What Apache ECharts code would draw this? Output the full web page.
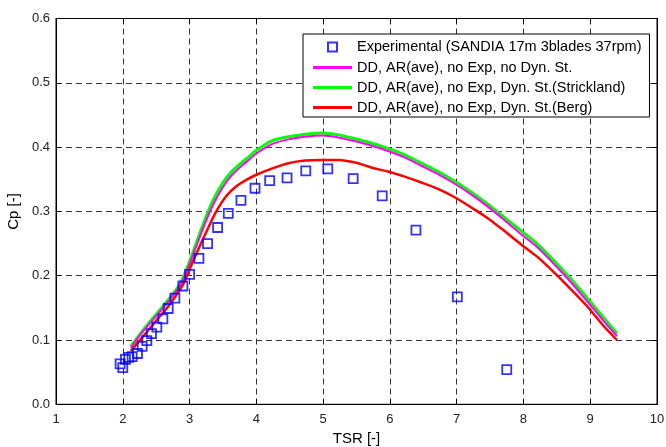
<!DOCTYPE html>
<html>
<head>
<meta charset="utf-8">
<script src="https://cdn.jsdelivr.net/npm/echarts@6/dist/echarts.min.js"></script>
<style>html,body{margin:0;padding:0;background:#fff;}#c{width:666px;height:447px;}</style>
</head>
<body>
<div id="c"></div>
<script>
const seriesNames = [
  'Experimental (SANDIA 17m 3blades 37rpm)',
  'DD, AR(ave), no Exp, no Dyn. St.',
  'DD, AR(ave), no Exp, Dyn. St.(Strickland)',
  'DD, AR(ave), no Exp, Dyn. St.(Berg)'
];
const xTicks = [1,2,3,4,5,6,7,8,9,10];
const yTicks = [0,0.1,0.2,0.3,0.4,0.5,0.6];

const experimental = [[1.96,0.063],[2.0,0.057],[2.04,0.07],[2.09,0.073],[2.14,0.074],[2.22,0.079],[2.29,0.09],[2.36,0.099],[2.43,0.11],[2.51,0.12],[2.6,0.133],[2.68,0.149],[2.78,0.165],[2.9,0.184],[3.0,0.202],[3.14,0.227],[3.27,0.25],[3.42,0.275],[3.58,0.297],[3.77,0.317],[3.98,0.336],[4.2,0.348],[4.46,0.352],[4.74,0.363],[5.07,0.366],[5.45,0.351],[5.885,0.324],[6.39,0.271],[7.01,0.167],[7.75,0.054]];

const noDynSt = [[2.12,0.088],[2.3,0.113],[2.5,0.137],[2.7,0.162],[2.86,0.185],[3.0,0.218],[3.2,0.273],[3.35,0.31],[3.5,0.338],[3.62,0.355],[3.78,0.371],[3.9,0.381],[4.0,0.39],[4.24,0.405],[4.48,0.412],[4.73,0.416],[4.98,0.418],[5.23,0.415],[5.48,0.409],[5.73,0.402],[5.97,0.394],[6.22,0.384],[6.47,0.371],[6.72,0.358],[6.97,0.343],[7.22,0.326],[7.47,0.307],[7.72,0.286],[7.96,0.265],[8.2,0.245],[8.45,0.219],[8.7,0.191],[8.94,0.162],[9.19,0.131],[9.4,0.106]];

const strickland = [[2.12,0.09],[2.3,0.115],[2.5,0.14],[2.7,0.165],[2.86,0.188],[3.0,0.222],[3.2,0.279],[3.35,0.317],[3.5,0.345],[3.62,0.361],[3.78,0.376],[3.9,0.386],[4.0,0.395],[4.24,0.41],[4.48,0.416],[4.73,0.42],[4.98,0.422],[5.23,0.419],[5.48,0.413],[5.73,0.406],[5.97,0.398],[6.22,0.388],[6.47,0.375],[6.72,0.362],[6.97,0.347],[7.22,0.33],[7.47,0.311],[7.72,0.29],[7.96,0.27],[8.2,0.25],[8.45,0.224],[8.7,0.196],[8.94,0.167],[9.19,0.136],[9.4,0.11]];

const berg = [[2.12,0.083],[2.3,0.105],[2.5,0.13],[2.7,0.155],[2.9,0.186],[3.05,0.222],[3.25,0.268],[3.4,0.3],[3.55,0.324],[3.7,0.339],[3.85,0.349],[4.0,0.357],[4.24,0.367],[4.48,0.375],[4.73,0.379],[4.98,0.38],[5.23,0.38],[5.48,0.376],[5.73,0.368],[5.97,0.362],[6.22,0.354],[6.47,0.345],[6.72,0.335],[6.97,0.322],[7.22,0.306],[7.47,0.289],[7.72,0.269],[7.96,0.249],[8.2,0.23],[8.45,0.206],[8.7,0.18],[8.94,0.154],[9.19,0.123],[9.4,0.1]];

const FONT = 'Liberation Sans, Arial, sans-serif';
const LINE_ICON = 'path://M0,0M39,14M0,5.5L39,5.5L39,8.5L0,8.5Z';
const SQUARE_ICON = 'path://M0,0M39,14M15,2.5L24,2.5L24,11.5L15,11.5Z';
const chart = echarts.init(document.getElementById('c'), null, {renderer:'canvas'});
const gridDash = {show:true, lineStyle:{color:'#333', type:[6,4], width:1}};
chart.setOption({
  animation:false,
  backgroundColor:'#fff',
  grid:{left:56, right:9, top:18.5, bottom:42.7, show:true, borderColor:'#000', borderWidth:1,
        containLabel:false, outerBoundsMode:'none'},
  xAxis:[{
    type:'value', min:xTicks[0], max:xTicks[xTicks.length-1], interval:1, position:'bottom',
    name:'TSR [-]', nameLocation:'middle', nameGap:26,
    nameTextStyle:{fontFamily:FONT, fontSize:15, color:'#000'},
    axisLine:{show:true, onZero:false, lineStyle:{color:'#000', width:1}},
    axisTick:{show:true, inside:true, length:5, lineStyle:{color:'#000'}},
    axisLabel:{fontFamily:FONT, fontSize:13, color:'#222', margin:9},
    splitLine:gridDash
  },{
    type:'value', min:xTicks[0], max:xTicks[xTicks.length-1], interval:1, position:'top',
    axisLine:{show:true, onZero:false, lineStyle:{color:'#000'}},
    axisTick:{show:true, inside:true, length:5, lineStyle:{color:'#000'}},
    axisLabel:{show:false}, splitLine:{show:false}
  }],
  yAxis:[{
    type:'value', min:yTicks[0], max:yTicks[yTicks.length-1], interval:0.1, position:'left',
    name:'Cp [-]', nameLocation:'middle', nameGap:30, nameRotate:90,
    nameTextStyle:{fontFamily:FONT, fontSize:15, color:'#000'},
    axisLine:{show:true, onZero:false, lineStyle:{color:'#000', width:1}},
    axisTick:{show:true, inside:true, length:5, lineStyle:{color:'#000'}},
    axisLabel:{fontFamily:FONT, fontSize:13, color:'#222', margin:6, formatter:v=>v.toFixed(1)},
    splitLine:gridDash
  },{
    type:'value', min:yTicks[0], max:yTicks[yTicks.length-1], interval:0.1, position:'right',
    axisLine:{show:true, onZero:false, lineStyle:{color:'#000'}},
    axisTick:{show:true, inside:true, length:5, lineStyle:{color:'#000'}},
    axisLabel:{show:false}, splitLine:{show:false}
  }],
  legend:{
    show:true, orient:'vertical', left:303, top:34,
    backgroundColor:'#fff', borderColor:'#000', borderWidth:1,
    padding:[5,8,2,9], itemGap:5, itemWidth:39, itemHeight:14,
    textStyle:{fontFamily:FONT, fontSize:14.5, lineHeight:14, color:'#000'},
    data:[
      {name:seriesNames[0], icon:SQUARE_ICON},
      {name:seriesNames[1], icon:LINE_ICON, itemStyle:{borderWidth:0}},
      {name:seriesNames[2], icon:LINE_ICON, itemStyle:{borderWidth:0}},
      {name:seriesNames[3], icon:LINE_ICON, itemStyle:{borderWidth:0}}
    ]
  },
  series:[
    {name:seriesNames[0], type:'scatter', data:experimental, z:5,
     symbol:'path://M0,0L10,0L10,10L0,10Z', symbolKeepAspect:true, symbolSize:9,
     itemStyle:{color:'rgba(0,0,0,0)', borderColor:'#0000ff', borderWidth:1.8}},
    {name:seriesNames[2], type:'line', data:strickland, showSymbol:false, symbol:'none', smooth:0.3, z:2,
     lineStyle:{color:'#00ff00', width:3}, itemStyle:{color:'#00ff00'}},
    {name:seriesNames[1], type:'line', data:noDynSt, showSymbol:false, symbol:'none', smooth:0.3, z:3,
     lineStyle:{color:'#ff00ff', width:2}, itemStyle:{color:'#ff00ff'}},
    {name:seriesNames[3], type:'line', data:berg, showSymbol:false, symbol:'none', smooth:0.3, z:4,
     lineStyle:{color:'#ff0000', width:2.5}, itemStyle:{color:'#ff0000'}}
  ]
});
</script>
</body>
</html>
